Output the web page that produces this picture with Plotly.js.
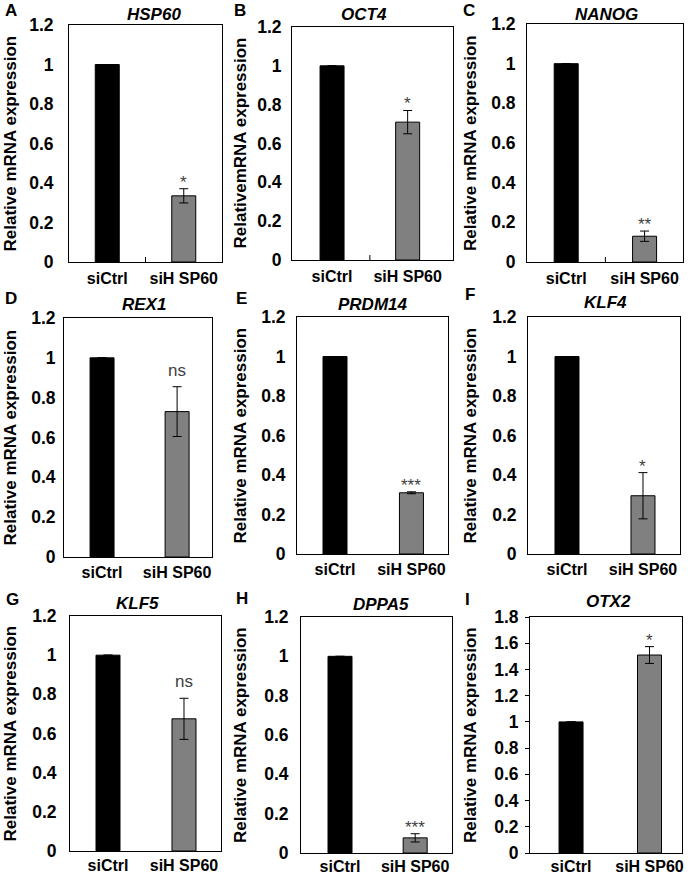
<!DOCTYPE html>
<html><head><meta charset="utf-8">
<script src="https://cdn.plot.ly/plotly-3.0.1.min.js"></script>
<style>html,body{margin:0;padding:0;background:#fff}</style>
</head><body>
<div id="chart" style="width:690px;height:875px"></div>
<script>
// ---- data ----
const categories = ['siCtrl', 'siH SP60'];
const genes = ['HSP60', 'OCT4', 'NANOG', 'REX1', 'PRDM14', 'KLF4', 'KLF5', 'DPPA5', 'OTX2'];
const panelLetters = ['A', 'B', 'C', 'D', 'E', 'F', 'G', 'H', 'I'];
const ctrlValues = [1, 1, 1, 1, 1, 1, 1, 1, 1];
const kdValues = [0.335, 0.71, 0.13, 0.73, 0.31, 0.295, 0.675, 0.077, 1.51];
const kdErrors = [0.036, 0.06, 0.026, 0.125, 0.005, 0.117, 0.105, 0.021, 0.064];
const significance = ['*', '*', '**', 'ns', '***', '*', 'ns', '***', '*'];
const yMax = [1.2, 1.2, 1.2, 1.2, 1.2, 1.2, 1.2, 1.2, 1.8];
const yTitles = ['Relative mRNA expression', 'RelativemRNA expression', 'Relative mRNA expression',
  'Relative mRNA expression', 'Relative mRNA expression', 'Relative mRNA expression',
  'Relative mRNA expression', 'Relative mRNA expression', 'Relative mRNA expression'];

// ---- layout geometry (pixels) ----
const W = 690, H = 875;
const boxes = [
  {l: 69, r: 222, t: 25, b: 262, xr: [-0.5, 1.5], gap: 11, xgap: 2, mid: true},
  {l: 292, r: 453, t: 27, b: 260, xr: [-0.53, 1.6], gap: 6, xgap: 2, mid: true},
  {l: 527, r: 683, t: 24, b: 262, xr: [-0.5, 1.49], gap: 7, xgap: 2, mid: true},
  {l: 64, r: 212, t: 318, b: 557, xr: [-0.507, 1.465], gap: 4, xgap: 1},
  {l: 297, r: 448, t: 317, b: 554, xr: [-0.497, 1.478], gap: 7, xgap: 1},
  {l: 528, r: 680, t: 317, b: 554, xr: [-0.513, 1.487], gap: 7, xgap: 1},
  {l: 70, r: 221, t: 616, b: 851, xr: [-0.5, 1.487], gap: 9, xgap: 0},
  {l: 301, r: 452, t: 617, b: 853, xr: [-0.519, 1.49], gap: 8, xgap: -1},
  {l: 530, r: 682, t: 617, b: 853, xr: [-0.523, 1.414], gap: 3, xgap: -1, yticks: true}
];
const titlePos = [[154, 15], [364, 15], [606, 15], [144, 305], [373, 304], [605, 302], [137, 603], [381, 604], [608, 601]];
const letterPos = [[11, 11], [240, 11], [469, 11], [11, 299], [241, 299], [470, 294], [12, 599], [242, 598], [467, 599]];
const yTitleX = [10, 240, 470, 10, 240, 470, 10, 240, 470];

const FAM = '"Liberation Sans", Arial, sans-serif';
const data = [];
const layout = {
  width: W, height: H, margin: {l: 0, r: 0, t: 0, b: 0},
  paper_bgcolor: '#fff', plot_bgcolor: '#fff', showlegend: false,
  annotations: [], shapes: []
};

genes.forEach((g, i) => {
  const n = i + 1;
  const sx = n === 1 ? '' : String(n);
  const bx = boxes[i];
  const wpx = bx.r - bx.l;
  const barW = 24 * (bx.xr[1] - bx.xr[0]) / wpx;
  data.push({
    type: 'bar', x: categories, y: [ctrlValues[i], kdValues[i]],
    xaxis: 'x' + sx, yaxis: 'y' + sx, width: barW,
    marker: {color: ['#000000', '#808080'], line: {color: '#000', width: 1}},
    error_y: {type: 'data', array: [0, kdErrors[i]], visible: true, color: '#000', thickness: 1, width: 4.5},
    hoverinfo: 'skip'
  });
  layout['xaxis' + sx] = {
    domain: [bx.l / W, bx.r / W], range: bx.xr, type: 'category', anchor: 'y' + sx,
    showline: true, mirror: true, linecolor: '#000', linewidth: 1,
    showgrid: false, zeroline: false, ticks: '', fixedrange: true,
    tickfont: {family: FAM, size: 16, weight: 'bold', color: '#000'},
    ticklabelstandoff: bx.xgap
  };
  layout['yaxis' + sx] = {
    domain: [1 - bx.b / H, 1 - bx.t / H], range: [0, yMax[i]], tick0: 0, dtick: 0.2,
    anchor: 'x' + sx, showline: true, mirror: true, linecolor: '#000', linewidth: 1,
    showgrid: false, zeroline: false, fixedrange: true,
    ticks: bx.yticks ? 'outside' : '', ticklen: 4, tickcolor: '#000',
    tickfont: {family: FAM, size: 17.5, weight: 'bold', color: '#000'},
    ticklabelstandoff: bx.gap
  };
  if (bx.mid) {
    layout.shapes.push({type: 'line', xref: 'x' + sx, yref: 'y' + sx, x0: 0.5, x1: 0.5,
      ysizemode: 'pixel', yanchor: 0, y0: 0, y1: 5, line: {color: '#000', width: 1}});
  }
  // gene title
  layout.annotations.push({xref: 'paper', yref: 'paper', x: titlePos[i][0] / W, y: 1 - titlePos[i][1] / H,
    xanchor: 'center', yanchor: 'middle', showarrow: false, text: g,
    font: {family: FAM, size: 17, weight: 'bold', style: 'italic', color: '#000'}});
  // panel letter
  layout.annotations.push({xref: 'paper', yref: 'paper', x: letterPos[i][0] / W, y: 1 - letterPos[i][1] / H,
    xanchor: 'center', yanchor: 'middle', showarrow: false, text: panelLetters[i],
    font: {family: FAM, size: 17, weight: 'bold', color: '#000'}});
  // y-axis title
  layout.annotations.push({xref: 'paper', yref: 'paper', x: yTitleX[i] / W, y: 1 - ((bx.t + bx.b) / 2) / H,
    xanchor: 'center', yanchor: 'middle', showarrow: false, textangle: -90, text: yTitles[i],
    font: {family: FAM, size: 17, weight: 'bold', color: '#000'}});
  // significance
  const isNs = significance[i] === 'ns';
  layout.annotations.push({xref: 'x' + sx, yref: 'y' + sx, x: categories[1], y: kdValues[i] + kdErrors[i],
    xanchor: 'center', yanchor: 'bottom', showarrow: false, text: significance[i],
    yshift: isNs ? 5 : -5,
    font: {family: FAM, size: 17, color: '#404040'}});
});

Plotly.newPlot('chart', data, layout, {displayModeBar: false, staticPlot: true});
</script>
</body></html>
